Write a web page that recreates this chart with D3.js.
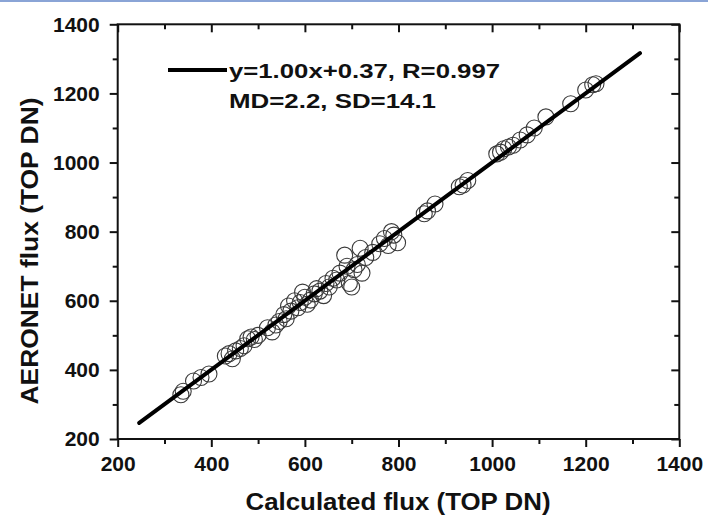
<!DOCTYPE html>
<html>
<head>
<meta charset="utf-8">
<script src="https://cdn.jsdelivr.net/npm/d3@7"></script>
<style>
  html, body { margin: 0; padding: 0; background: #fff; }
  svg { display: block; }
  text { font-family: "Liberation Sans", Arial, sans-serif; font-weight: bold; fill: #111; }
</style>
</head>
<body>
<svg id="chart" width="708" height="518"></svg>
<script>
// ---- data ----
const calculated = [335, 340, 362, 378, 395, 430, 438, 445, 452, 462, 470, 478, 485, 492, 500,
  520, 530, 538, 545, 555, 560, 565, 570, 578, 585, 590, 595, 600, 605, 612, 620, 625, 632, 640,
  645, 652, 660, 668, 675, 685, 690, 695, 700, 705, 712, 718, 722, 730, 745, 760, 770, 778, 785,
  790, 798, 855, 862, 878, 930, 938, 948, 1010, 1018, 1025, 1035, 1045, 1060, 1075, 1090, 1115,
  1168, 1200, 1215, 1222];
const aeronet = [328, 338, 368, 378, 388, 440, 447, 432, 455, 462, 470, 490, 495, 488, 500,
  522, 510, 530, 540, 560, 548, 585, 570, 600, 580, 595, 625, 610, 590, 602, 620, 635, 628, 615,
  650, 640, 665, 660, 680, 732, 700, 650, 640, 690, 705, 752, 680, 725, 740, 765, 780, 760, 800,
  790, 768, 852, 860, 880, 930, 935, 948, 1025, 1030, 1040, 1045, 1050, 1065, 1080, 1100, 1132,
  1170, 1210, 1225, 1228];
const fitLine = { slope: 1.00, intercept: 0.37, xStart: 246, xEnd: 1316 };
const majorTicks = [200, 400, 600, 800, 1000, 1200, 1400];
const minorTicks = [300, 500, 700, 900, 1100, 1300];
const legendLines = ["y=1.00x+0.37, R=0.997", "MD=2.2, SD=14.1"];
const xTitle = "Calculated flux (TOP DN)";
const yTitle = "AERONET flux (TOP DN)";

// ---- drawing ----
const svg = d3.select("#chart");
const x = d3.scaleLinear().domain([200, 1400]).range([117.7, 679.3]);
const y = d3.scaleLinear().domain([200, 1400]).range([439, 24.3]);

svg.append("rect").attr("x", 0).attr("y", 0).attr("width", 708).attr("height", 2).attr("fill", "#8aa4d6");

function styleAxis(g, labels) {
  g.select(".domain").remove();
  g.selectAll(".tick line").attr("stroke", "#111").attr("stroke-width", 2);
  if (labels) {
    g.selectAll(".tick text").attr("font-size", 21).attr("fill", "#111")
      .style("font-family", '"Liberation Sans", Arial, sans-serif').style("font-weight", "bold");
  } else {
    g.selectAll(".tick text").remove();
  }
}

// bottom
svg.append("g").attr("transform", `translate(0,${y(200)})`)
  .call(d3.axisBottom(x).tickValues(majorTicks).tickSize(8).tickPadding(9).tickFormat(d3.format("d")))
  .call(g => styleAxis(g, true));
svg.append("g").attr("transform", `translate(0,${y(200)})`)
  .call(d3.axisBottom(x).tickValues(minorTicks).tickSize(5))
  .call(g => styleAxis(g, false));
// top (ticks inward)
svg.append("g").attr("transform", `translate(0,${y(1400)})`)
  .call(d3.axisTop(x).tickValues(majorTicks).tickSize(-8))
  .call(g => styleAxis(g, false));
svg.append("g").attr("transform", `translate(0,${y(1400)})`)
  .call(d3.axisTop(x).tickValues(minorTicks).tickSize(-5))
  .call(g => styleAxis(g, false));
// left
svg.append("g").attr("transform", `translate(${x(200)},0)`)
  .call(d3.axisLeft(y).tickValues(majorTicks).tickSize(8).tickPadding(10).tickFormat(d3.format("d")))
  .call(g => styleAxis(g, true));
svg.append("g").attr("transform", `translate(${x(200)},0)`)
  .call(d3.axisLeft(y).tickValues(minorTicks).tickSize(5))
  .call(g => styleAxis(g, false));
// right (ticks inward)
svg.append("g").attr("transform", `translate(${x(1400)},0)`)
  .call(d3.axisRight(y).tickValues(majorTicks).tickSize(-8))
  .call(g => styleAxis(g, false));
svg.append("g").attr("transform", `translate(${x(1400)},0)`)
  .call(d3.axisRight(y).tickValues(minorTicks).tickSize(-5))
  .call(g => styleAxis(g, false));

// frame
svg.append("rect")
  .attr("x", x(200)).attr("y", y(1400))
  .attr("width", x(1400) - x(200)).attr("height", y(200) - y(1400))
  .attr("fill", "none").attr("stroke", "#111").attr("stroke-width", 2);

// points
const pts = calculated.map((c, i) => ({ c, a: aeronet[i] }));
svg.append("g").selectAll("circle").data(pts).join("circle")
  .attr("cx", d => x(d.c)).attr("cy", d => y(d.a)).attr("r", 8)
  .attr("fill", "none").attr("stroke", "#3a3a3a").attr("stroke-width", 1.1);

// fit line
const line = d3.line().x(d => x(d)).y(d => y(fitLine.slope * d + fitLine.intercept));
svg.append("path").datum([fitLine.xStart, fitLine.xEnd]).attr("d", line)
  .attr("fill", "none").attr("stroke", "#000").attr("stroke-width", 4).attr("stroke-linecap", "round");

// legend
svg.append("line").attr("x1", 168).attr("x2", 227).attr("y1", 70).attr("y2", 70)
  .attr("stroke", "#000").attr("stroke-width", 4);
svg.append("text").attr("x", 229).attr("y", 78).attr("font-size", 20)
  .attr("textLength", 271).attr("lengthAdjust", "spacingAndGlyphs").text(legendLines[0]);
svg.append("text").attr("x", 229).attr("y", 107.5).attr("font-size", 20)
  .attr("textLength", 207).attr("lengthAdjust", "spacingAndGlyphs").text(legendLines[1]);

// axis titles
svg.append("text").attr("x", 398).attr("y", 510).attr("text-anchor", "middle").attr("font-size", 23)
  .attr("textLength", 305).attr("lengthAdjust", "spacingAndGlyphs").text(xTitle);
svg.append("text").attr("transform", `translate(38,251) rotate(-90)`).attr("text-anchor", "middle")
  .attr("font-size", 24).attr("textLength", 307).attr("lengthAdjust", "spacingAndGlyphs").text(yTitle);
</script>
</body>
</html>
